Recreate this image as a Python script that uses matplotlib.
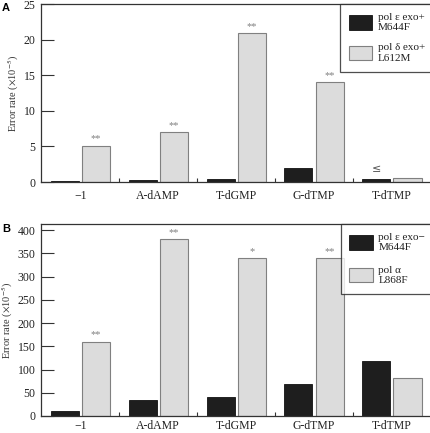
import matplotlib
matplotlib.use("Agg")
import matplotlib.pyplot as plt
from matplotlib.patches import Patch
import numpy as np

categories = ["\u22121", "A-dAMP", "T-dGMP", "G-dTMP", "T-dTMP"]

a_eps = [0.2, 0.25, 0.45, 1.9, 0.4]
a_delta = [5.1, 7.05, 20.95, 14.0, 0.5]
a_marks = ["**", "**", "**", "**", ""]
a_eps_marks = ["", "", "", "", "\u2264"]

b_eps = [10, 35, 40, 68, 118]
b_alpha = [160, 380, 340, 340, 82]
b_marks = ["**", "**", "*", "**", ""]

a_legend = ["pol \u03b5 exo+\nM644F", "pol \u03b4 exo+\nL612M"]
b_legend = ["pol \u03b5 exo\u2212\nM644F", "pol \u03b1\nL868F"]

a_yticks = [0, 5, 10, 15, 20, 25]
b_yticks = [0, 50, 100, 150, 200, 250, 300, 350, 400]

plt.rcParams['font.family'] = ['Liberation Serif', 'DejaVu Serif']
plt.rcParams['mathtext.fontset'] = 'stix'

W, H = 431, 433
fig = plt.figure(figsize=(W / 100, H / 100), dpi=100)

DARK = "#1e1e1e"
LIGHT = "#dcdcdc"
LEDGE = "#808080"
SP = "#333333"

def panel(rect, d1, d2, marks, ymax, yticks, legend_labels, letter, letter_y, eps_marks=None,
          lspace=1.0, xpad=6):
    ax = fig.add_axes([rect[0] / W, 1 - rect[3] / H, (rect[2] - rect[0]) / W, (rect[3] - rect[1]) / H])
    x = np.arange(len(categories))
    w = 0.36
    ax.bar(x - 0.2, d1, w, color=DARK, edgecolor="#111111", linewidth=0.6, zorder=2)
    ax.bar(x + 0.2, d2, w, color=LIGHT, edgecolor=LEDGE, linewidth=0.8, zorder=2)
    for xi, v, m in zip(x, d2, marks):
        if m:
            ax.text(xi + 0.2, v + ymax * 0.012, m, ha="center", va="bottom",
                    fontsize=7.5, color="#808080")
    if eps_marks:
        for xi, v, m in zip(x, d1, eps_marks):
            if m:
                ax.text(xi - 0.2, v + ymax * 0.03, m, ha="center", va="bottom",
                        fontsize=8, color="#555555", family=['DejaVu Sans'])
    ax.set_xlim(-0.505, 4.54)
    ax.set_ylim(0, ymax)
    ax.set_yticks(yticks)
    ax.set_xticks(x)
    ax.set_xticklabels(categories, fontsize=8.5)
    ax.tick_params(axis="x", length=0, pad=xpad, colors="#222222")
    ax.set_xticks(x[:-1] + 0.5, minor=True)
    ax.tick_params(axis="x", which="minor", direction="in", length=3, width=0.8, color=SP)
    ax.tick_params(axis="y", direction="in", length=9, width=0.8, pad=4, labelsize=8.5, color=SP, labelcolor="#222222")
    for s in ["left", "top", "bottom", "right"]:
        ax.spines[s].set_color(SP)
        ax.spines[s].set_linewidth(0.9)
    ax.set_ylabel("Error rate ($\\times$10$^{-5}$)", fontsize=7.5, color="#333333", labelpad=2)
    handles = [Patch(facecolor=DARK, edgecolor="#111111", linewidth=0.6),
               Patch(facecolor=LIGHT, edgecolor=LEDGE, linewidth=0.8)]
    leg = ax.legend(handles, legend_labels, loc="upper right", bbox_to_anchor=(1.0, 1.0),
                    fontsize=8, frameon=True, fancybox=False, handlelength=2.1, handleheight=1.6,
                    borderpad=0.8, labelspacing=lspace, handletextpad=0.5, borderaxespad=0)
    leg.get_frame().set_edgecolor("#222222")
    leg.get_frame().set_linewidth(0.9)
    for t in leg.get_texts():
        t.set_color("#222222")
    fig.text(2 / W, 1 - letter_y / H, letter, fontsize=8, fontweight="bold",
             family=['Liberation Sans', 'DejaVu Sans'], va="center", ha="left")
    return ax

panel((41, 4, 434, 182), a_eps, a_delta, a_marks, 25, a_yticks, a_legend, "A", 8,
      eps_marks=a_eps_marks, lspace=1.0)
panel((41, 224, 434, 416), b_eps, b_alpha, b_marks, 413, b_yticks, b_legend, "B", 229,
      lspace=1.2, xpad=3)

fig.savefig("out.png", dpi=100)
